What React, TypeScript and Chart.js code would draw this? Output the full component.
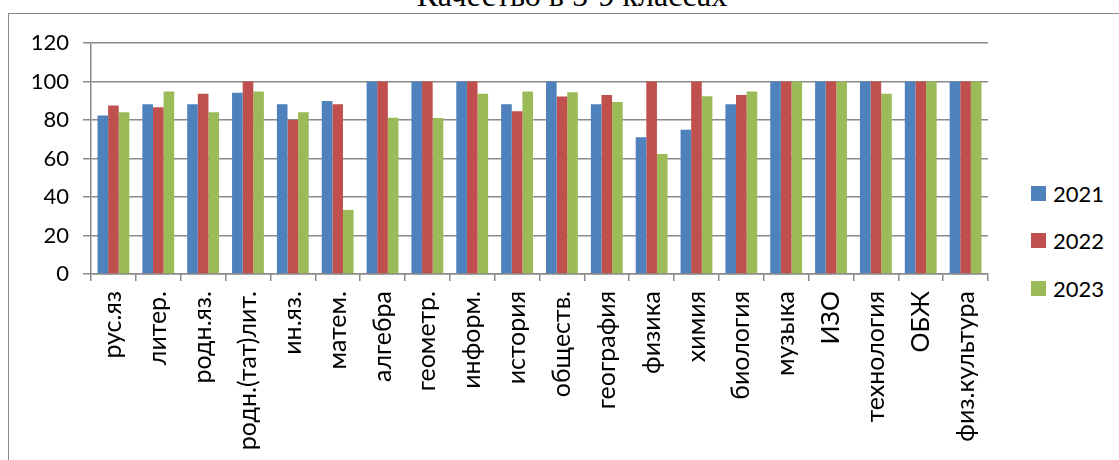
import { useRef, useEffect } from 'react'
import { Chart, registerables } from 'chart.js'

Chart.register(...registerables)

const categories = [
  'рус.яз', 'литер.', 'родн.яз.', 'родн.(тат)лит.', 'ин.яз.', 'матем.', 'алгебра', 'геометр.',
  'информ.', 'история', 'обществ.', 'география', 'физика', 'химия', 'биология', 'музыка',
  'ИЗО', 'технология', 'ОБЖ', 'физ.культура',
]
const years = ['2021', '2022', '2023']
const v2021 = [82.3, 88.2, 88.2, 94.1, 88.2, 89.9, 100, 100, 100, 88.2, 100, 88.2, 71.1, 75, 88.2, 100, 100, 100, 100, 100]
const v2022 = [87.5, 86.6, 93.7, 100, 80, 88.2, 100, 100, 100, 84.5, 92.2, 93, 100, 100, 93, 100, 100, 100, 100, 100]
const v2023 = [84, 94.8, 84, 94.8, 84, 33.3, 81.2, 81, 93.7, 94.8, 94.4, 89.4, 62.3, 92.3, 94.8, 100, 100, 93.7, 100, 100]
const yTicks = [0, 20, 40, 60, 80, 100, 120]

const colors = ['#4f81bd', '#c0504d', '#9bbb59']
const GRID = '#8a8a8a'
const FONT = 'Lato, "Open Sans", sans-serif'

export default function App() {
  const canvasRef = useRef<HTMLCanvasElement>(null)
  const chartRef = useRef<Chart | null>(null)

  useEffect(() => {
    if (!canvasRef.current) return
    chartRef.current?.destroy()
    const series = [v2021, v2022, v2023]
    chartRef.current = new Chart(canvasRef.current, {
      type: 'bar',
      data: {
        labels: categories,
        datasets: years.map((y, i) => ({
          label: y,
          data: series[i],
          backgroundColor: colors[i],
          borderWidth: 0,
          categoryPercentage: 0.71,
          barPercentage: 1,
        })),
      },
      options: {
        animation: false,
        responsive: false,
        devicePixelRatio: 1,
        layout: { padding: { top: 29, right: 21, left: 0, bottom: 0 } },
        plugins: { legend: { display: false }, title: { display: false }, tooltip: { enabled: false } },
        scales: {
          x: {
            grid: { display: true, drawOnChartArea: false, drawTicks: true, tickLength: 7, color: GRID, lineWidth: 1.5, offset: true },
            border: { display: true, color: GRID, width: 1.5 },
            ticks: {
              autoSkip: false,
              minRotation: 90,
              maxRotation: 90,
              padding: 10,
              color: '#000',
              font: { family: FONT, size: 25 },
            },
            afterFit: (s) => {
              s.height = 186
            },
          },
          y: {
            min: yTicks[0],
            max: yTicks[yTicks.length - 1],
            afterBuildTicks: (s) => {
              s.ticks = yTicks.map((v) => ({ value: v }))
            },
            ticks: { padding: 14, color: '#000', font: { family: FONT, size: 22 } },
            grid: { color: GRID, lineWidth: 1.5, tickLength: 8 },
            border: { color: GRID, width: 1.5 },
            afterFit: (s) => {
              s.width = 82
            },
          },
        },
      },
    })
    return () => {
      chartRef.current?.destroy()
      chartRef.current = null
    }
  }, [])

  return (
    <div style={{ position: 'absolute', left: 0, top: 0, width: 1119, height: 460, overflow: 'hidden', background: '#fff' }}>
      {/* frame of the embedded chart */}
      <div
        style={{
          position: 'absolute', left: 8, top: 13, width: 1200, height: 600,
          borderLeft: `1.5px solid ${GRID}`, borderTop: `1.5px solid ${GRID}`,
        }}
      />
      {/* title, clipped by the top of the picture */}
      <div
        style={{
          position: 'absolute', left: 172, top: -21, width: 800, textAlign: 'center',
          fontFamily: '"Liberation Serif", "Times New Roman", serif', fontSize: 32, lineHeight: '32px', color: '#000',
        }}
      >
        Качество в 5-9 классах
      </div>
      <canvas ref={canvasRef} width={1000} height={446} style={{ position: 'absolute', left: 9, top: 14 }} />
      {/* legend */}
      {years.map((y, i) => (
        <div key={y} style={{ position: 'absolute', left: 1031, top: 176 + i * 47.5, height: 34, display: 'flex', alignItems: 'center' }}>
          <span style={{ width: 15, height: 15, background: colors[i], display: 'inline-block' }} />
          <span style={{ marginLeft: 7, fontFamily: FONT, fontSize: 22, color: '#000' }}>{y}</span>
        </div>
      ))}
    </div>
  )
}
